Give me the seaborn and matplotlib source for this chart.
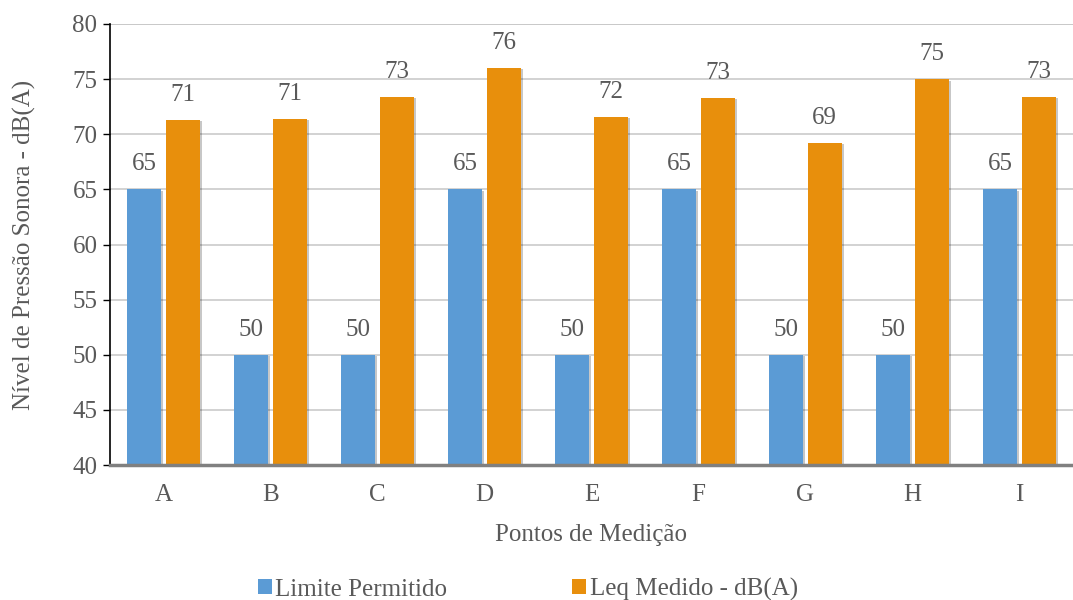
import pandas as pd
import seaborn as sns
import matplotlib.pyplot as plt
import matplotlib.patheffects as pe

# dados
pontos = ['A', 'B', 'C', 'D', 'E', 'F', 'G', 'H', 'I']
limite = [65, 50, 50, 65, 50, 65, 50, 50, 65]
leq = [71.3, 71.4, 73.4, 76.0, 71.6, 73.3, 69.2, 75.0, 73.4]
series = ['Limite Permitido', 'Leq Medido - dB(A)']

dados = pd.DataFrame({
    'ponto': pontos * 2,
    'valor': limite + leq,
    'serie': [series[0]] * len(pontos) + [series[1]] * len(pontos),
})

sns.set_style('white')
plt.rcParams['font.family'] = ['Liberation Serif', 'DejaVu Serif']
cinza = '#595959'
fs = 18

fig = plt.figure(figsize=(10.73, 6), dpi=100)
ax = fig.add_axes([0.1025, 0.225, 0.8975, 0.735])

ax.set_axisbelow(True)
ax.yaxis.grid(True, color='#cfcfcf', linewidth=1.3)

sns.barplot(data=dados, x='ponto', y='valor', hue='serie', ax=ax,
            palette=['#5b9bd5', '#e88f0c'], width=0.72, gap=0.13,
            saturation=1, linewidth=0, legend=True)

sombra = [pe.SimplePatchShadow(offset=(1.5, -1), shadow_rgbFace='#000000', alpha=0.22), pe.Normal()]
for c in ax.containers:
    for p in c:
        p.set_path_effects(sombra)
    ax.bar_label(c, labels=[f'{v.get_height():.0f}' for v in c], padding=10,
                 fontsize=fs, color=cinza)

ax.set_ylim(40, 80)
ax.set_yticks(range(40, 81, 5))
ax.set_xlim(-0.5, 8.5)
ax.axhline(80, color='#8c8c8c', linewidth=1.3, zorder=0)
ax.tick_params(axis='both', labelsize=fs, colors=cinza)
ax.tick_params(axis='y', left=True, length=5, width=1, color='black', pad=4)
ax.tick_params(axis='x', bottom=False, pad=10)

for s in ['top', 'right']:
    ax.spines[s].set_visible(False)
ax.spines['left'].set_color('black')
ax.spines['left'].set_linewidth(1.2)
ax.spines['bottom'].set_color('#808080')
ax.spines['bottom'].set_linewidth(2.5)

ax.set_xlabel('Pontos de Medição', fontsize=fs, color=cinza, labelpad=13)
ax.set_ylabel('Nível de Pressão Sonora - dB(A)', fontsize=fs, color=cinza, labelpad=26)

ax.legend(loc='upper center', bbox_to_anchor=(0.434, -0.205), ncol=2, frameon=False,
          fontsize=fs, labelcolor=cinza, handlelength=0.55, handleheight=0.55,
          handletextpad=0.15, columnspacing=5.0)

plt.savefig('out.png', dpi=100)
